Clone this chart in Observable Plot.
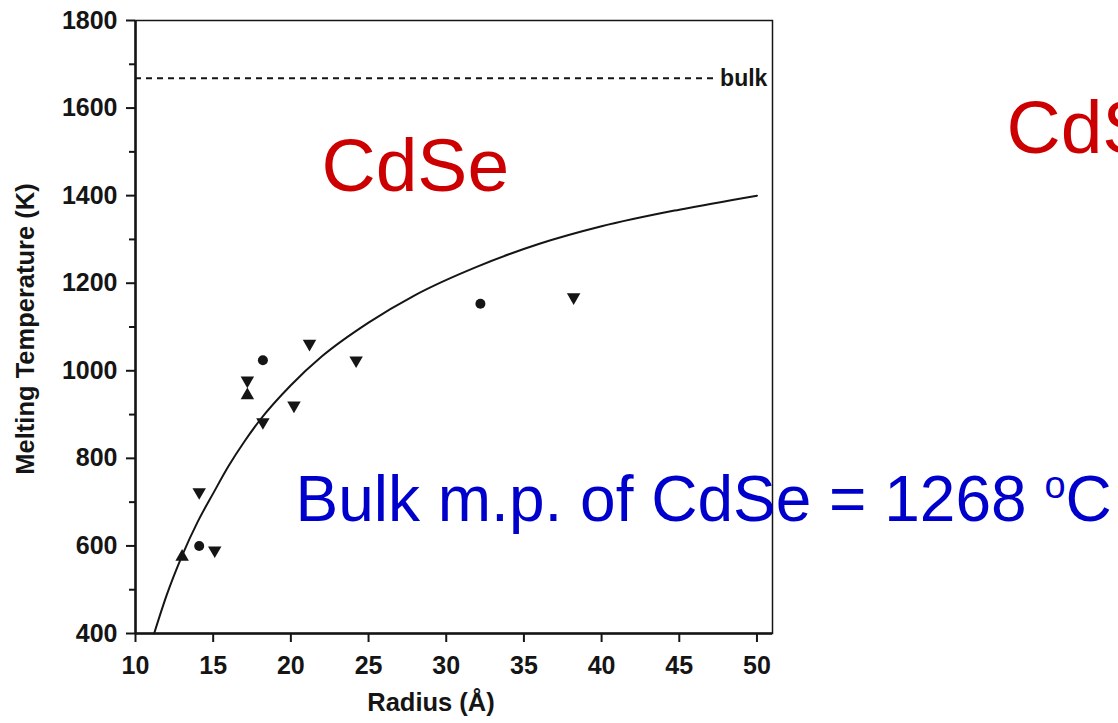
<!DOCTYPE html>
<html>
<head>
<meta charset="utf-8">
<script src="https://cdn.jsdelivr.net/npm/d3@7"></script>
<script src="https://cdn.jsdelivr.net/npm/@observablehq/plot@0.6"></script>
<style>
  html, body { margin: 0; padding: 0; background: #fff; }
  #chart svg { display: block; }
</style>
</head>
<body>
<div id="chart"></div>
<script>
// ---- data ----
const xTicks = [10, 15, 20, 25, 30, 35, 40, 45, 50];
const yTicks = [400, 600, 800, 1000, 1200, 1400, 1600, 1800];
const yMinorTicks = [500, 700, 900, 1100, 1300, 1500, 1700];

// fitted curve
const curveRadius = [11.2, 12, 13, 14, 15, 16, 17, 18, 20, 22, 25, 28, 32, 36, 40, 45, 50];
const curveTemp   = [400, 487, 578, 655, 720, 783, 838, 887, 967, 1033, 1110, 1173, 1238, 1290, 1330, 1368, 1400];

// measured points
const pointRadius = [13.0, 14.1, 14.1, 15.1, 17.2, 17.2, 18.2, 18.2, 20.2, 21.2, 24.2, 32.2, 38.2];
const pointTemp   = [575, 600, 723, 590, 978, 944, 1024, 883, 921, 1062, 1024, 1153, 1168];
const pointShape  = ["up", "circle", "down", "down", "down", "up", "circle", "down", "down", "down", "down", "circle", "down"];

// bulk line
const bulkTemp = [1668];
const bulkFrom = [10];
const bulkTo = [47.5];
const bulkLabel = ["bulk"];

const xLabel = "Radius (Å)";
const yLabel = "Melting Temperature (K)";
const titleRed = "CdSe";
const titleRed2 = "CdS";
const noteBlue = "Bulk m.p. of CdSe = 1268 oC";

// ---- tables built from arrays ----
const curve = curveRadius.map((r, i) => ({r, t: curveTemp[i]}));
const points = pointRadius.map((r, i) => ({r, t: pointTemp[i], s: pointShape[i]}));
const bulk = bulkTemp.map((t, i) => ({t, a: bulkFrom[i], b: bulkTo[i], label: bulkLabel[i]}));

const ink = "#151515";
const svg = Plot.plot({
  width: 1118,
  height: 723,
  marginLeft: 135,
  marginRight: 346,
  marginTop: 20,
  marginBottom: 90,
  x: {domain: [10, 51]},
  y: {domain: [400, 1800]},
  symbol: {domain: ["circle", "down", "up"], range: ["circle", "triangle", "triangle"]},
  style: {
    fontFamily: "'Liberation Sans', Arial, sans-serif",
    fontSize: "25px",
    fontWeight: "bold",
    color: ink,
    background: "#fff",
    overflow: "visible"
  },
  marks: [
    Plot.frame({stroke: ink, strokeWidth: 1.5}),
    Plot.axisX(xTicks, {tickSize: 9, tickPadding: 14, strokeWidth: 2, label: null, fill: ink, tickFormat: d3.format("d")}),
    Plot.axisY(yTicks, {tickSize: 9, tickPadding: 9, strokeWidth: 2, label: null, fill: ink, tickFormat: d3.format("d")}),
    Plot.axisY(yMinorTicks, {tickSize: 6, strokeWidth: 2, tickFormat: () => "", label: null}),
    Plot.ruleX([10], {stroke: ink, strokeWidth: 2.5}),
    Plot.ruleY([400], {stroke: ink, strokeWidth: 2.5}),
    Plot.ruleY(bulk, {y: "t", x1: "a", x2: "b", stroke: ink, strokeWidth: 2, strokeDasharray: "6,5"}),
    Plot.text(bulk, {x: "b", y: "t", text: "label", textAnchor: "start", dx: 2, fontSize: 23, fill: ink}),
    Plot.line(curve, {x: "r", y: "t", curve: "monotone-x", stroke: ink, strokeWidth: 2}),
    Plot.dot(points, {x: "r", y: "t", symbol: "s", rotate: d => d.s === "down" ? 180 : 0, fill: ink, stroke: "none", r: 5}),
    Plot.text([yLabel], {text: d => d, frameAnchor: "left", dx: -110, dy: 2, rotate: -90, textAnchor: "middle", lineAnchor: "middle", fontSize: 25.5, fill: ink}),
    Plot.text([xLabel], {text: d => d, frameAnchor: "bottom", dx: -23, dy: 69, textAnchor: "middle", lineAnchor: "middle", fontSize: 25.5, fill: ink}),
    Plot.text([titleRed], {text: d => d, frameAnchor: "top-left", dx: 186, dy: 170, lineAnchor: "bottom", textAnchor: "start", fontSize: 75, fontWeight: "normal", fill: "#cc0000"}),
    Plot.text([titleRed2], {text: d => d, frameAnchor: "top-left", dx: 871, dy: 132, lineAnchor: "bottom", textAnchor: "start", fontSize: 75, fontWeight: "normal", fill: "#cc0000"}),
    Plot.text([noteBlue], {text: d => d, frameAnchor: "top-left", dx: 160, dy: 500, lineAnchor: "bottom", textAnchor: "start", fontSize: 64, fontWeight: "normal", fill: "#0000cc"})
  ]
});

// superscript "o" in the blue note
const note = [...svg.querySelectorAll("text")].find(n => n.textContent === noteBlue);
if (note) {
  const ns = "http://www.w3.org/2000/svg";
  const main = noteBlue.slice(0, noteBlue.lastIndexOf("oC"));
  note.textContent = "";
  const t1 = document.createElementNS(ns, "tspan"); t1.textContent = main;
  const t2 = document.createElementNS(ns, "tspan"); t2.textContent = "o";
  t2.setAttribute("font-size", "38"); t2.setAttribute("dy", "-23");
  const t3 = document.createElementNS(ns, "tspan"); t3.textContent = "C";
  t3.setAttribute("dy", "23");
  note.append(t1, t2, t3);
}

document.getElementById("chart").appendChild(svg);
</script>
</body>
</html>
